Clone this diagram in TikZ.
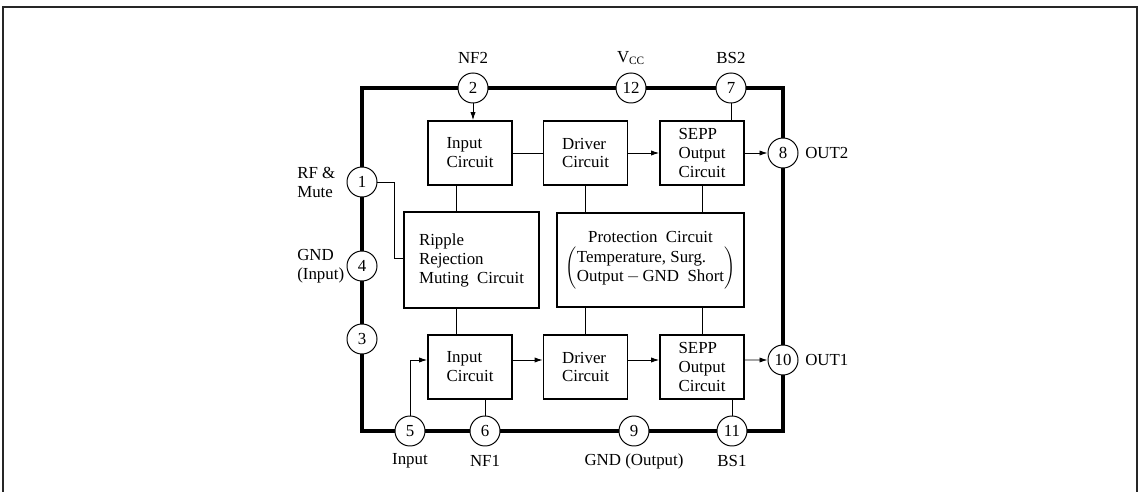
\documentclass[tikz,border=0pt]{standalone}
\usepackage{fontspec}
\setmainfont{Liberation Serif}
\usepackage{tikz}
\usetikzlibrary{arrows.meta,positioning}

\begin{document}
\begin{tikzpicture}[
    x=0.025cm, y=-0.025cm,
    font=\fontsize{12}{13.5}\selectfont,
    block/.style={rectangle, draw, line width=1.2pt, inner sep=0pt, align=left, minimum width=2.1cm, minimum height=1.6cm},
    bigblock/.style={block, align=center},
    pin/.style={circle, draw, fill=white, line width=0.7pt, minimum size=0.75cm, inner sep=0pt},
    wire/.style={line width=0.6pt},
    arrow/.style={wire, -{Latex[length=2mm,width=1.3mm]}},
    lbl/.style={inner sep=0pt}
]
    \useasboundingbox (0,0) rectangle (1140,492);
    % page frame and IC package outline
    \draw[line width=1pt, black!85] (3,492) -- (3,7) -- (1137,7) -- (1137,492);
    \draw[line width=2.4pt] (362,88) rectangle (783,431);

    % pins
    \node[pin] (p2) at (473,88) {2};
    \node[pin] (p12) at (631,88) {12};
    \node[pin] (p7) at (731,88) {7};
    \node[pin] (p8) at (783,153) {8};
    \node[pin] (p10) at (783,360) {10};
    \node[pin] (p1) at (362,182) {1};
    \node[pin] (p4) at (362,266) {4};
    \node[pin] (p3) at (362,339) {3};
    \node[pin] (p5) at (410,431) {5};
    \node[pin] (p6) at (485,431) {6};
    \node[pin] (p9) at (634,431) {9};
    \node[pin] (p11) at (732,431) {11};

    % pin labels
    \node[lbl] (l2) at (473,58) {NF2};
    \node[lbl] (l12) at (631,58) {V\textsubscript{CC}};
    \node[lbl] (l7) at (731,58) {BS2};
    \node[lbl, anchor=west] (l8) at (805,153) {OUT2};
    \node[lbl, anchor=west] (l10) at (805,360) {OUT1};
    \node[lbl, anchor=west, align=left] (l1) at (297,182) {RF \&\\Mute};
    \node[lbl, anchor=west, align=left] (l4) at (297,266) {GND\\(Input)};
    \node[lbl] (l5) at (410,461) {Input};
    \node[lbl] (l6) at (485,461) {NF1};
    \node[lbl] (l9) at (634,461) {GND (Output)};
    \node[lbl] (l11) at (732,461) {BS1};

    % blocks
    \node[block] (inT) at (470,153) {Input\\Circuit};
    \node[block] (drT) at (585.5,153) {Driver\\Circuit};
    \node[block] (spT) at (702,153) {SEPP\\Output\\Circuit};
    \node[block, minimum width=3.375cm, minimum height=2.4cm] (rip) at (471.5,260) {Ripple\\Rejection\\Muting\ \ Circuit};
    \node[bigblock, minimum width=4.675cm, minimum height=2.35cm] (pro) at (650.5,260)
        {Protection\ \ Circuit\\[2pt]$\left(\begin{tabular}{@{}l@{}}Temperature, Surg.\\Output\,$-$\,GND\ \ Short\end{tabular}\right)$};
    \node[block] (inB) at (470,367) {Input\\Circuit};
    \node[block] (drB) at (585.5,367) {Driver\\Circuit};
    \node[block] (spB) at (702,367) {SEPP\\Output\\Circuit};

    % upper channel
    \draw[arrow] (p2) -- (p2 |- inT.north);
    \draw[wire] (inT) -- (drT);
    \draw[arrow] (drT) -- (spT);
    \draw[arrow] (spT) -- (p8);
    \draw[wire] (p7) -- (p7 |- spT.north);
    \draw[wire] ([xshift=-0.35cm]inT.south) -- ([xshift=-0.35cm]inT.south |- rip.north);
    \draw[wire] (drT.south) -- (drT.south |- pro.north);
    \draw[wire] (spT.south) -- (spT.south |- pro.north);

    % ripple / protection to lower channel
    \draw[wire] ([xshift=-0.35cm]inB.north) -- ([xshift=-0.35cm]inB.north |- rip.south);
    \draw[wire] (drB.north) -- (drB.north |- pro.south);
    \draw[wire] (spB.north) -- (spB.north |- pro.south);
    \draw[wire] (p1.east) -- ++(17,0) |- ([yshift=0.05cm]rip.west);

    % lower channel
    \draw[arrow] (p5.north) |- ([yshift=0.175cm]inB.west);
    \draw[arrow] ([yshift=0.175cm]inB.east) -- ([yshift=0.175cm]drB.west);
    \draw[arrow] ([yshift=0.175cm]drB.east) -- ([yshift=0.175cm]spB.west);
    \draw[arrow] ([yshift=0.175cm]spB.east) -- (p10.west);
    \draw[wire] (p6) -- (p6 |- inB.south);
    \draw[wire] (p11) -- (p11 |- spB.south);
\end{tikzpicture}
\end{document}
